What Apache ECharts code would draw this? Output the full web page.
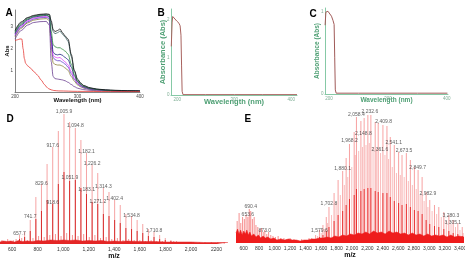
<!DOCTYPE html>
<html>
<head>
<meta charset="utf-8">
<script src="https://cdn.jsdelivr.net/npm/echarts@6/dist/echarts.min.js"></script>
<style>
html, body { margin: 0; padding: 0; background: #fff; }
#chart { width: 465px; height: 260px; }
</style>
</head>
<body>
<div id="chart"></div>
<script>
// ---- panel A : UV-vis spectra ----
var waveA = [200,210,220,230,240,250,255,258,261,264,268,272,276,280,285,290,295,300,305,310,320,330,345,360,380,400];
var absBlack   = [2.85,3.25,3.45,3.55,3.6,3.62,3.6,3.3,2.9,2.8,2.85,2.92,2.75,2.6,2.45,1.75,1.0,0.6,0.42,0.3,0.2,0.14,0.1,0.08,0.06,0.05];
var absSlate   = [2.8,3.2,3.42,3.52,3.58,3.6,3.58,3.2,2.8,2.7,2.75,2.82,2.68,2.55,2.35,1.65,0.95,0.55,0.4,0.28,0.18,0.13,0.09,0.07,0.05,0.04];
var absGreen   = [2.75,3.15,3.38,3.5,3.55,3.57,3.5,2.8,2.2,2.1,2.05,2.05,1.98,1.9,1.75,1.3,0.8,0.5,0.35,0.25,0.16,0.12,0.08,0.06,0.05,0.04];
var absNavy    = [2.7,3.1,3.35,3.47,3.52,3.55,3.5,2.6,1.85,1.75,1.72,1.75,1.7,1.6,1.5,1.15,0.75,0.48,0.33,0.24,0.16,0.12,0.08,0.06,0.05,0.04];
var absMagenta = [2.65,3.05,3.3,3.42,3.48,3.5,3.45,2.4,1.7,1.62,1.58,1.6,1.5,1.4,1.25,0.95,0.65,0.42,0.3,0.22,0.15,0.11,0.08,0.06,0.05,0.04];
var absViolet  = [2.6,3.0,3.25,3.38,3.44,3.46,3.4,2.3,1.6,1.5,1.45,1.45,1.38,1.3,1.15,0.85,0.58,0.38,0.27,0.2,0.13,0.1,0.07,0.05,0.04,0.03];
var absOlive   = [2.55,2.95,3.2,3.33,3.38,3.4,3.32,2.1,1.35,1.28,1.25,1.25,1.2,1.12,1.0,0.72,0.5,0.33,0.24,0.18,0.12,0.09,0.06,0.05,0.04,0.03];
var absPurple  = [2.45,2.85,3.1,3.22,3.26,3.27,3.1,1.4,0.72,0.62,0.6,0.58,0.56,0.52,0.45,0.35,0.25,0.18,0.14,0.11,0.08,0.06,0.05,0.04,0.03,0.03];
var waveRed = [200,204,208,211,213,215,217,220,225,230,236,242,247,251,254,258,262,270,300,350,400];
var absRed  = [2.38,2.42,2.46,2.45,2.0,1.55,1.33,1.22,1.1,0.95,0.78,0.55,0.35,0.22,0.15,0.1,0.07,0.05,0.03,0.02,0.02];

// ---- panels B, C ----
var waveB = [189.5,191,192,195,199,203,205,206.5,207.5,208.5,210,250,300,350,410];
var absB  = [1.3,1.95,2.1,2.05,1.98,1.92,1.85,1.6,0.8,0.1,0.01,0.01,0.01,0.01,0.01];
var waveC = [193.2,194.5,196,198,201,204,206.5,208.5,209.5,210.5,212,250,300,350,401];
var absC  = [0.84,1.0,1.02,1.01,0.99,0.95,0.9,0.85,0.45,0.05,0.01,0.01,0.01,0.01,0.01];

// ---- panel D : mass spectrum ----
var peaksD = [[609,4],[657.7,9],[697.7,12],[741.7,24],[785.7,47],[829.6,60],[873.6,80],[917.6,97],[961.7,113],[1005.9,130],
  [1049.9,122],[1094.8,116],[1138.4,104],[1182.1,91],[1226.2,79],[1270.2,71],[1314.3,56],[1358.3,52],[1402.4,44],[1446.4,39],
  [1490.5,30],[1534.8,28],[1578.6,24],[1622.6,20],[1666.7,15],[1710.8,12],[1754.8,9],[1798.9,6],[1843,4],[1887,3],[1931,2]];
var coreD = [[609,2],[657.7,5],[697.7,7],[741.7,13],[785.7,25],[829.6,33],[873.6,44],[917.6,40],[961.7,60],[1005.9,72],
  [1049.9,63],[1094.8,64],[1138.4,56],[1182.1,50],[1226.2,42],[1270.2,40],[1314.3,30],[1358.3,28],[1402.4,24],[1446.4,21],
  [1490.5,16],[1534.8,15],[1578.6,13],[1622.6,11],[1666.7,8],[1710.8,7],[1754.8,5],[1798.9,4],[1843,3],[1887,2],[1931,1]];
var minorD = [[520,4],[545,3],[565,5],[590,3],[631,5],[675,6],[719,4],[763,6],[807,8],[851,7],[895,9],[939,10],[983,8],[1027,11],
  [1072,9],[1116,8],[1160,10],[1204,7],[1248,9],[1292,6],[1336,7],[1380,5],[1424,6],[1468,4],[1512,5],[1556,4],[1600,4],[1644,3],
  [1688,4],[1732,3],[1776,3],[1820,2],[1865,3],[1909,2],[1975,2],[2020,2],[2065,2],[2110,2],[2160,2],[2210,2],[2260,2]];
var noiseD = [[505,2],[530,3],[560,2.5],[590,3],[620,2],[650,3.5],[680,2.5],[720,3],[760,2.5],[800,3.5],[850,3],[900,4],[950,3.5],
  [1000,4],[1050,3.5],[1100,4],[1150,3],[1200,3.5],[1250,3],[1300,3.5],[1350,2.5],[1400,3],[1450,2.5],[1500,3],[1600,2.5],
  [1700,2.5],[1800,2],[1900,2],[2000,2],[2100,1.5],[2200,1.5],[2290,1.5]];
var labelD = [[657.7,7,'657.7'],[741.7,24,'741.7'],[829.6,57,'829.6'],[917.6,95,'917.6'],[918.6,38,'918.6'],[1005.9,129,'1,005.9'],
  [1051.9,63,'1,051.9'],[1094.8,115,'1,094.8'],[1182.1,89,'1,182.1'],[1183.1,51,'1,183.1'],[1226.2,77,'1,226.2'],[1271.2,39,'1,271.2'],
  [1314.3,54,'1,314.3'],[1402.4,42,'1,402.4'],[1534.8,25,'1,534.8'],[1710.8,10,'1,710.8']];
var tickD = [600,800,1000,1200,1400,1600,1800,2000,2200];
var tickDText = ['600','800','1,000','1,200','1,400','1,600','1,800','2,000','2200'];

// ---- panel E : mass spectrum ----
var peaksE = [[1480,5],[1530,8],[1579.6,13],[1625,18],[1668,26],[1702.8,36],[1769,50],[1821,63],[1880.1,72],[1925,85],[1968.2,99],
  [2029,111],[2058.4,126],[2116,122],[2158,125],[2206,128],[2245,128],[2301,121],[2340,120],[2401,118],[2453,117],[2496,106],
  [2548,98],[2604,91],[2648,88],[2704,90],[2756,83],[2808,76],[2856,73],[2908,66],[2960,51],[3007,43],[3068,38],[3124,36],
  [3189,31],[3254,28],[3310,23],[3370,20],[3427,16]];
var coreE = [[1480,3],[1530,4],[1579.6,6],[1625,8],[1668,12],[1702.8,16],[1769,22],[1821,28],[1880.1,32],[1925,38],[1968.2,44],
  [2029,48],[2058.4,54],[2116,52],[2158,54],[2206,55],[2245,55],[2301,52],[2340,51],[2401,50],[2453,50],[2496,46],
  [2548,42],[2604,40],[2648,38],[2704,39],[2756,36],[2808,33],[2856,32],[2908,29],[2960,23],[3007,19],[3068,17],[3124,16],
  [3189,14],[3254,12],[3310,10],[3370,9],[3427,7]];
var minorE = [[1505,4],[1555,7],[1602,10],[1646,14],[1685,20],[1736,28],[1795,40],[1850,48],[1902,58],[1946,66],[1998,76],
  [2043,88],[2087,92],[2137,96],[2182,98],[2225,100],[2273,96],[2320,94],[2370,90],[2427,88],[2474,84],[2522,76],[2576,70],
  [2626,68],[2676,66],[2730,62],[2782,58],[2832,54],[2882,48],[2934,42],[2983,36],[3037,32],[3096,29],[3156,26],[3221,22],
  [3282,19],[3340,16],[3398,13],[3440,10]];
var lowE = [[515,22],[540,30],[562,20],[585,26],[608,24],[630,28],[653.6,26],[672,34],[690.4,32],[712,24],[735,26],[758,18],
  [782,16],[806,13],[830,15],[852,11],[873,13],[898,9],[922,11],[950,8],[978,7],[1010,6],[1045,7],[1080,5],[1120,5],[1160,4],
  [1200,5],[1250,4],[1300,3],[1350,4],[1400,3],[1445,5]];
var noiseE = [[500,10],[520,14],[540,9],[560,13],[580,8],[600,12],[620,9],[640,13],[660,8],[680,11],[700,7],[730,9],[760,6],
  [790,8],[820,5],[850,7],[880,5],[910,6],[950,4],[990,5],[1030,3],[1080,4],[1130,3],[1180,4],[1230,3],[1280,3],[1330,2],
  [1380,3],[1430,3],[1480,4],[1530,4],[1580,5],[1630,5],[1680,6],[1730,5],[1780,7],[1830,6],[1880,8],[1930,7],[1980,9],
  [2030,8],[2080,10],[2130,9],[2180,11],[2230,9],[2280,12],[2330,10],[2380,11],[2430,9],[2480,12],[2530,10],[2580,11],
  [2630,9],[2680,10],[2730,8],[2780,10],[2830,8],[2880,9],[2930,7],[2980,9],[3030,7],[3080,8],[3130,7],[3180,8],[3230,6],
  [3280,8],[3330,6],[3380,7],[3450,6]];
var labelE = [[653.6,25,'653.6'],[690.4,33,'690.4'],[873.0,9,'873.0'],[1579.6,9,'1,579.6'],[1702.8,36,'1,702.8'],
  [1880.1,71,'1,880.1'],[1968.2,99,'1,968.2'],[2058.4,125,'2,058.4'],[2148.8,106,'2,148.8'],[2232.6,128,'2,232.6'],
  [2361.6,90,'2,361.6'],[2409.8,118,'2,409.8'],[2541.1,97,'2,541.1'],[2673.5,89,'2,673.5'],[2849.7,72,'2,849.7'],
  [2982.9,46,'2,982.9'],[3280.3,24,'3,280.3'],[3305.1,17,'3,305.1']];
var tickE = [600,800,1000,1200,1400,1600,1800,2000,2200,2400,2600,2800,3000,3200,3400];
var tickEText = ['600','800','1,000','1,200','1,400','1,600','1,800','2,000','2,200','2,400','2,600','2,800','3,000','3,200','3,400'];

var FONT = 'Liberation Sans, Arial, sans-serif';
var GREEN = '#4d9f73';
var GREEN_LINE = '#86c9a6';

function pairs(xs, ys) {
    return xs.map(function (x, i) { return [x, ys[i]]; });
}

function uvLine(ys, color) {
    return {
        type: 'line', xAxisIndex: 0, yAxisIndex: 0, data: pairs(waveA, ys),
        symbol: 'none', smooth: 0.3, smoothMonotone: 'x',
        lineStyle: { color: color, width: 0.8 }, silent: true
    };
}

function spikes(list, idx, color) {
    return {
        type: 'bar', xAxisIndex: idx, yAxisIndex: idx, data: list,
        barWidth: 1, barGap: '-100%', itemStyle: { color: color }, silent: true
    };
}

function noise(list, idx, color) {
    return {
        type: 'line', xAxisIndex: idx, yAxisIndex: idx, data: list, symbol: 'none',
        lineStyle: { color: color, width: 0.5 }, areaStyle: { color: color, opacity: 1 }, silent: true
    };
}

function peakLabels(list, idx) {
    return {
        type: 'scatter', xAxisIndex: idx, yAxisIndex: idx, symbolSize: 0.1, silent: true,
        data: list.map(function (d) { return { value: [d[0], d[1]], name: d[2] }; }),
        label: { show: true, position: 'top', distance: 1, formatter: '{b}', fontSize: 5, color: '#333', fontFamily: FONT }
    };
}

function specAxis(idx, min, max, ticks, texts, nameGap) {
    return {
        gridIndex: idx, type: 'value', min: min, max: max,
        axisLine: { show: false }, axisTick: { show: false }, splitLine: { show: false },
        axisLabel: {
            customValues: ticks, fontSize: 5, color: '#333', margin: 3, fontFamily: FONT,
            formatter: function (v) { return texts[ticks.indexOf(v)]; }
        },
        name: 'm/z', nameLocation: 'middle', nameGap: nameGap, nameMoveOverlap: false,
        nameTextStyle: { fontSize: 7, fontWeight: 'bold', color: '#111', fontFamily: FONT }
    };
}

function greenX(idx, min, max, size, gap) {
    return {
        gridIndex: idx, type: 'value', min: min, max: max,
        axisLine: { lineStyle: { color: GREEN_LINE, width: 1 } },
        axisTick: { show: false }, splitLine: { show: false },
        axisLabel: { customValues: [200, 300, 400], fontSize: 4.5, color: '#7fae95', margin: 2, fontFamily: FONT },
        name: 'Wavelength (nm)', nameLocation: 'middle', nameGap: gap, nameMoveOverlap: false,
        nameTextStyle: { fontSize: size, fontWeight: 'bold', color: GREEN, fontFamily: FONT }
    };
}

function greenY(idx, max, ticks, size, gap) {
    return {
        gridIndex: idx, type: 'value', min: 0, max: max,
        axisLine: { show: true, lineStyle: { color: GREEN_LINE, width: 1 } },
        axisTick: { show: false }, splitLine: { show: false },
        axisLabel: { customValues: ticks, fontSize: 4.5, color: '#7fae95', margin: 1.5, fontFamily: FONT },
        name: 'Absorbance (Abs)', nameLocation: 'middle', nameGap: gap, nameMoveOverlap: false,
        nameTextStyle: { fontSize: size, fontWeight: 'bold', color: GREEN, fontFamily: FONT }
    };
}

function letter(t, x, y) {
    return { type: 'text', left: x, top: y, style: { text: t, font: 'bold 10px ' + FONT, fill: '#000' } };
}

var chart = echarts.init(document.getElementById('chart'));

var option = {
    animation: false,
    textStyle: { fontFamily: FONT },
    grid: [
        { left: 15, right: 325, top: 10, bottom: 168, outerBoundsMode: 'none', containLabel: false },
        { left: 171, right: 168, top: 9, bottom: 165, outerBoundsMode: 'none', containLabel: false },
        { left: 325, right: 17, top: 8, bottom: 166, outerBoundsMode: 'none', containLabel: false },
        { left: 0, right: 237, top: 110, bottom: 16, outerBoundsMode: 'none', containLabel: false },
        { left: 236, right: 1, top: 111, bottom: 17, outerBoundsMode: 'none', containLabel: false }
    ],
    xAxis: [
        {
            gridIndex: 0, type: 'value', min: 200, max: 400,
            axisLine: { lineStyle: { color: '#666', width: 0.8 } },
            axisTick: { show: false }, splitLine: { show: false },
            axisLabel: { customValues: [200, 300, 400], fontSize: 4.5, color: '#444', margin: 2 },
            name: 'Wavelength (nm)', nameLocation: 'middle', nameGap: 5, nameMoveOverlap: false,
            nameTextStyle: { fontSize: 6, fontWeight: 'bold', color: '#111' }
        },
        greenX(1, 189, 410, 7.5, 3),
        greenX(2, 193, 402, 6.5, 3),
        specAxis(3, 505, 2290, tickD, tickDText, 9),
        specAxis(4, 500, 3450, tickE, tickEText, 9)
    ],
    yAxis: [
        {
            gridIndex: 0, type: 'value', min: 0, max: 3.8,
            axisLine: { show: true, lineStyle: { color: '#666', width: 0.8 } },
            axisTick: { show: false }, splitLine: { show: false },
            axisLabel: { customValues: [1, 2, 3], fontSize: 4.5, color: '#444', margin: 2 },
            name: 'Abs', nameLocation: 'middle', nameGap: 5, nameMoveOverlap: false,
            nameTextStyle: { fontSize: 6, fontWeight: 'bold', color: '#111' }
        },
        greenY(1, 2.3, [0, 1, 2], 7.5, 4),
        greenY(2, 1.05, [0, 1], 6.5, 4),
        { gridIndex: 3, type: 'value', min: 0, max: 134, show: false },
        { gridIndex: 4, type: 'value', min: 0, max: 132, show: false }
    ],
    graphic: [
        letter('A', 5.5, 8),
        letter('B', 157.5, 8),
        letter('C', 309.5, 9),
        letter('D', 6.5, 114),
        letter('E', 244.5, 114)
    ],
    series: [
        uvLine(absPurple, '#6a3d8f'),
        uvLine(absOlive, '#8b7d3a'),
        uvLine(absViolet, '#5c3cc8'),
        uvLine(absMagenta, '#e040fb'),
        uvLine(absNavy, '#1a237e'),
        uvLine(absGreen, '#2e8b3e'),
        uvLine(absSlate, '#3a6262'),
        uvLine(absBlack, '#111111'),
        {
            type: 'line', xAxisIndex: 0, yAxisIndex: 0, data: pairs(waveRed, absRed),
            symbol: 'none', smooth: 0.3, smoothMonotone: 'x',
            lineStyle: { color: '#e53935', width: 0.8 }, silent: true
        },
        {
            type: 'line', xAxisIndex: 1, yAxisIndex: 1, data: pairs(waveB, absB),
            symbol: 'none', lineStyle: { color: '#a8625e', width: 1 }, silent: true
        },
        {
            type: 'line', xAxisIndex: 2, yAxisIndex: 2, data: pairs(waveC, absC),
            symbol: 'none', lineStyle: { color: '#a05a58', width: 1 }, silent: true
        },
        spikes(peaksD, 3, 'rgba(238,90,90,0.55)'),
        spikes(minorD, 3, 'rgba(238,80,80,0.6)'),
        spikes(coreD, 3, 'rgba(210,25,25,0.85)'),
        noise(noiseD, 3, '#e42626'),
        peakLabels(labelD, 3),
        spikes(minorE, 4, 'rgba(242,110,110,0.45)'),
        spikes(peaksE, 4, 'rgba(240,85,85,0.55)'),
        spikes(lowE, 4, 'rgba(240,70,70,0.6)'),
        spikes(coreE, 4, 'rgba(230,25,25,0.85)'),
        noise(noiseE, 4, '#ee1c1c'),
        peakLabels(labelE, 4)
    ]
};

chart.setOption(option);
</script>
</body>
</html>
